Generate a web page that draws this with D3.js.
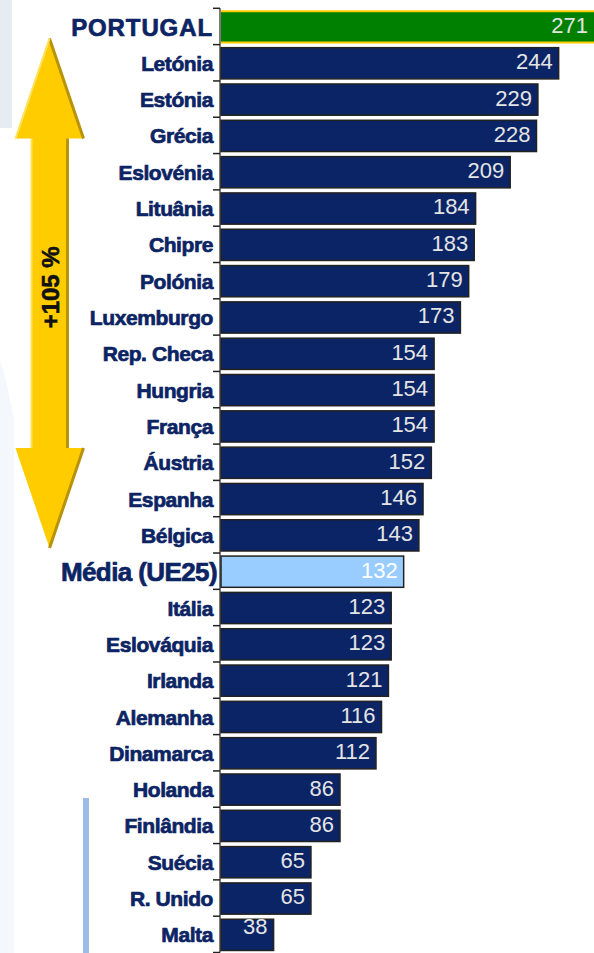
<!DOCTYPE html>
<html>
<head>
<meta charset="utf-8">
<script src="https://cdn.jsdelivr.net/npm/d3@7"></script>
<style>
  body { margin: 0; background: #fff; }
  svg { display: block; font-family: Arial, "Liberation Sans", sans-serif; }
  .label { fill: #0c2464; stroke: #0c2464; stroke-width: 0.7px; font-weight: bold; }
  .value { font-size: 22px; }
</style>
</head>
<body>
<svg width="594" height="953"></svg>
<script>
// Chart data
let countries = ["PORTUGAL", "Letónia", "Estónia", "Grécia", "Eslovénia", "Lituânia", "Chipre",
    "Polónia", "Luxemburgo", "Rep. Checa", "Hungria", "França", "Áustria", "Espanha", "Bélgica",
    "Média (UE25)", "Itália", "Eslováquia", "Irlanda", "Alemanha", "Dinamarca", "Holanda",
    "Finlândia", "Suécia", "R. Unido", "Malta"];
let values = [271, 244, 229, 228, 209, 184, 183, 179, 173, 154, 154, 154, 152, 146, 143,
    132, 123, 123, 121, 116, 112, 86, 86, 65, 65, 38];
let arrowLabel = "+105 %";

let data = countries.map(function(c, i) { return { name: c, value: values[i] }; });

// Set up variables
let svg = d3.select("svg");
let axisX = 220;
let axisTop = 8.3;
let axisBottom = 952.5;

// Scales
let xScale = d3.scaleLinear()
    .domain([0, 271])
    .range([axisX + 1, axisX + 376]);

let yScale = d3.scaleBand()
    .domain(countries)
    .range([axisTop, axisBottom])
    .paddingInner(0.14)
    .paddingOuter(0.07)
    .align(0.6);

let step = yScale.step();

// Background decorations
svg.append("rect")
    .attr("x", 0).attr("y", 0)
    .attr("width", 12).attr("height", 128)
    .attr("fill", "#e7ecf2");

svg.append("path")
    .attr("d", "M0,360 L6,380 L14,420 L14,953 L0,953 Z")
    .attr("fill", "#f4f7fb");

svg.append("rect")
    .attr("x", 83).attr("y", 798)
    .attr("width", 6).attr("height", 155)
    .attr("fill", "#9dbce5");

// Yellow double arrow
let arrowTop = yScale("PORTUGAL") + yScale.bandwidth() - 4;
let arrowBottom = yScale("Média (UE25)") - 8;
let cx = 49.5;
let headH = 100;
let headW = 34;
let shaftW = 18;

let arrowPts = [
    [cx, arrowTop],
    [cx + headW, arrowTop + headH],
    [cx + shaftW, arrowTop + headH],
    [cx + shaftW, arrowBottom - headH],
    [cx + headW, arrowBottom - headH],
    [cx, arrowBottom],
    [cx - headW, arrowBottom - headH],
    [cx - shaftW, arrowBottom - headH],
    [cx - shaftW, arrowTop + headH],
    [cx - headW, arrowTop + headH]
];

svg.append("polygon")
    .attr("points", arrowPts.map(function(p) { return p.join(","); }).join(" "))
    .attr("fill", "#ffcc00");

// darker right side for the 3d look
svg.append("path")
    .attr("d", d3.line()([arrowPts[0], arrowPts[1]]) + d3.line()([arrowPts[2], arrowPts[3]]) +
        d3.line()([arrowPts[4], arrowPts[5]]))
    .attr("stroke", "#b8930a")
    .attr("stroke-width", 3)
    .attr("fill", "none");

svg.append("path")
    .attr("d", d3.line()([arrowPts[9], arrowPts[0]]) + d3.line()([arrowPts[7], arrowPts[8]]))
    .attr("stroke", "#ffe15a")
    .attr("stroke-width", 2)
    .attr("fill", "none");

svg.append("text")
    .attr("transform", "translate(" + (cx + 9) + "," + ((arrowTop + arrowBottom) / 2 - 6) + ") rotate(-90)")
    .attr("text-anchor", "middle")
    .style("font-size", "24px")
    .style("font-weight", "bold")
    .attr("fill", "#111")
    .attr("stroke", "#111")
    .attr("stroke-width", 0.6)
    .text(arrowLabel);

// Bars
let bars = svg.selectAll("rect.bar")
    .data(data)
    .enter().append("rect")
    .attr("class", "bar")
    .attr("x", xScale(0))
    .attr("y", function(d) { return yScale(d.name); })
    .attr("width", function(d) { return xScale(d.value) - xScale(0); })
    .attr("height", yScale.bandwidth())
    .attr("fill", function(d) {
        if (d.name == "PORTUGAL") return "#008000";
        if (d.name == "Média (UE25)") return "#99ccff";
        return "#0b2466";
    })
    .attr("stroke", function(d) { return d.name == "PORTUGAL" ? "none" : "#222"; })
    .attr("stroke-width", 1.5);

// yellow edges on Portugal bar
let pt = data[0];
[0, yScale.bandwidth()].forEach(function(off) {
    svg.append("line")
        .attr("x1", xScale(0))
        .attr("x2", xScale(pt.value))
        .attr("y1", yScale(pt.name) + off)
        .attr("y2", yScale(pt.name) + off)
        .attr("stroke", "#ffcc00")
        .attr("stroke-width", 2);
});

// Axis line and ticks at band edges
svg.append("line")
    .attr("x1", axisX).attr("x2", axisX)
    .attr("y1", axisTop).attr("y2", axisBottom)
    .attr("stroke", "#222")
    .attr("stroke-width", 1.2);

svg.selectAll("line.tick")
    .data(d3.range(countries.length + 1))
    .enter().append("line")
    .attr("class", "tick")
    .attr("x1", axisX - 7).attr("x2", axisX)
    .attr("y1", function(i) { return axisTop + i * step; })
    .attr("y2", function(i) { return axisTop + i * step; })
    .attr("stroke", "#222")
    .attr("stroke-width", 1.5);

// Category labels
svg.selectAll("text.label")
    .data(data)
    .enter().append("text")
    .attr("class", "label")
    .attr("x", function(d) { return d.name == "Média (UE25)" ? axisX - 3 : axisX - 7; })
    .attr("y", function(d) { return yScale(d.name) + yScale.bandwidth() / 2; })
    .attr("dy", "0.36em")
    .attr("text-anchor", "end")
    .style("font-size", function(d) {
        if (d.name == "PORTUGAL") return "24px";
        if (d.name == "Média (UE25)") return "26px";
        return "21px";
    })
    .style("letter-spacing", function(d) {
        if (d.name == "PORTUGAL") return "0.9px";
        if (d.name == "Média (UE25)") return "-0.6px";
        return "-0.4px";
    })
    .text(function(d) { return d.name; });

// Value labels
svg.selectAll("text.value")
    .data(data)
    .enter().append("text")
    .attr("class", "value")
    .attr("x", function(d) { return Math.min(xScale(d.value), 594) - 6; })
    .attr("y", function(d) {
        let yc = yScale(d.name) + yScale.bandwidth() / 2 - 2;
        return d.name == "Malta" ? yc - 7 : yc;
    })
    .attr("dy", "0.36em")
    .attr("text-anchor", "end")
    .attr("fill", function(d) { return d.name == "Média (UE25)" ? "#ffffff" : "#e4e4e4"; })
    .text(function(d) { return d.value; });
</script>
</body>
</html>
